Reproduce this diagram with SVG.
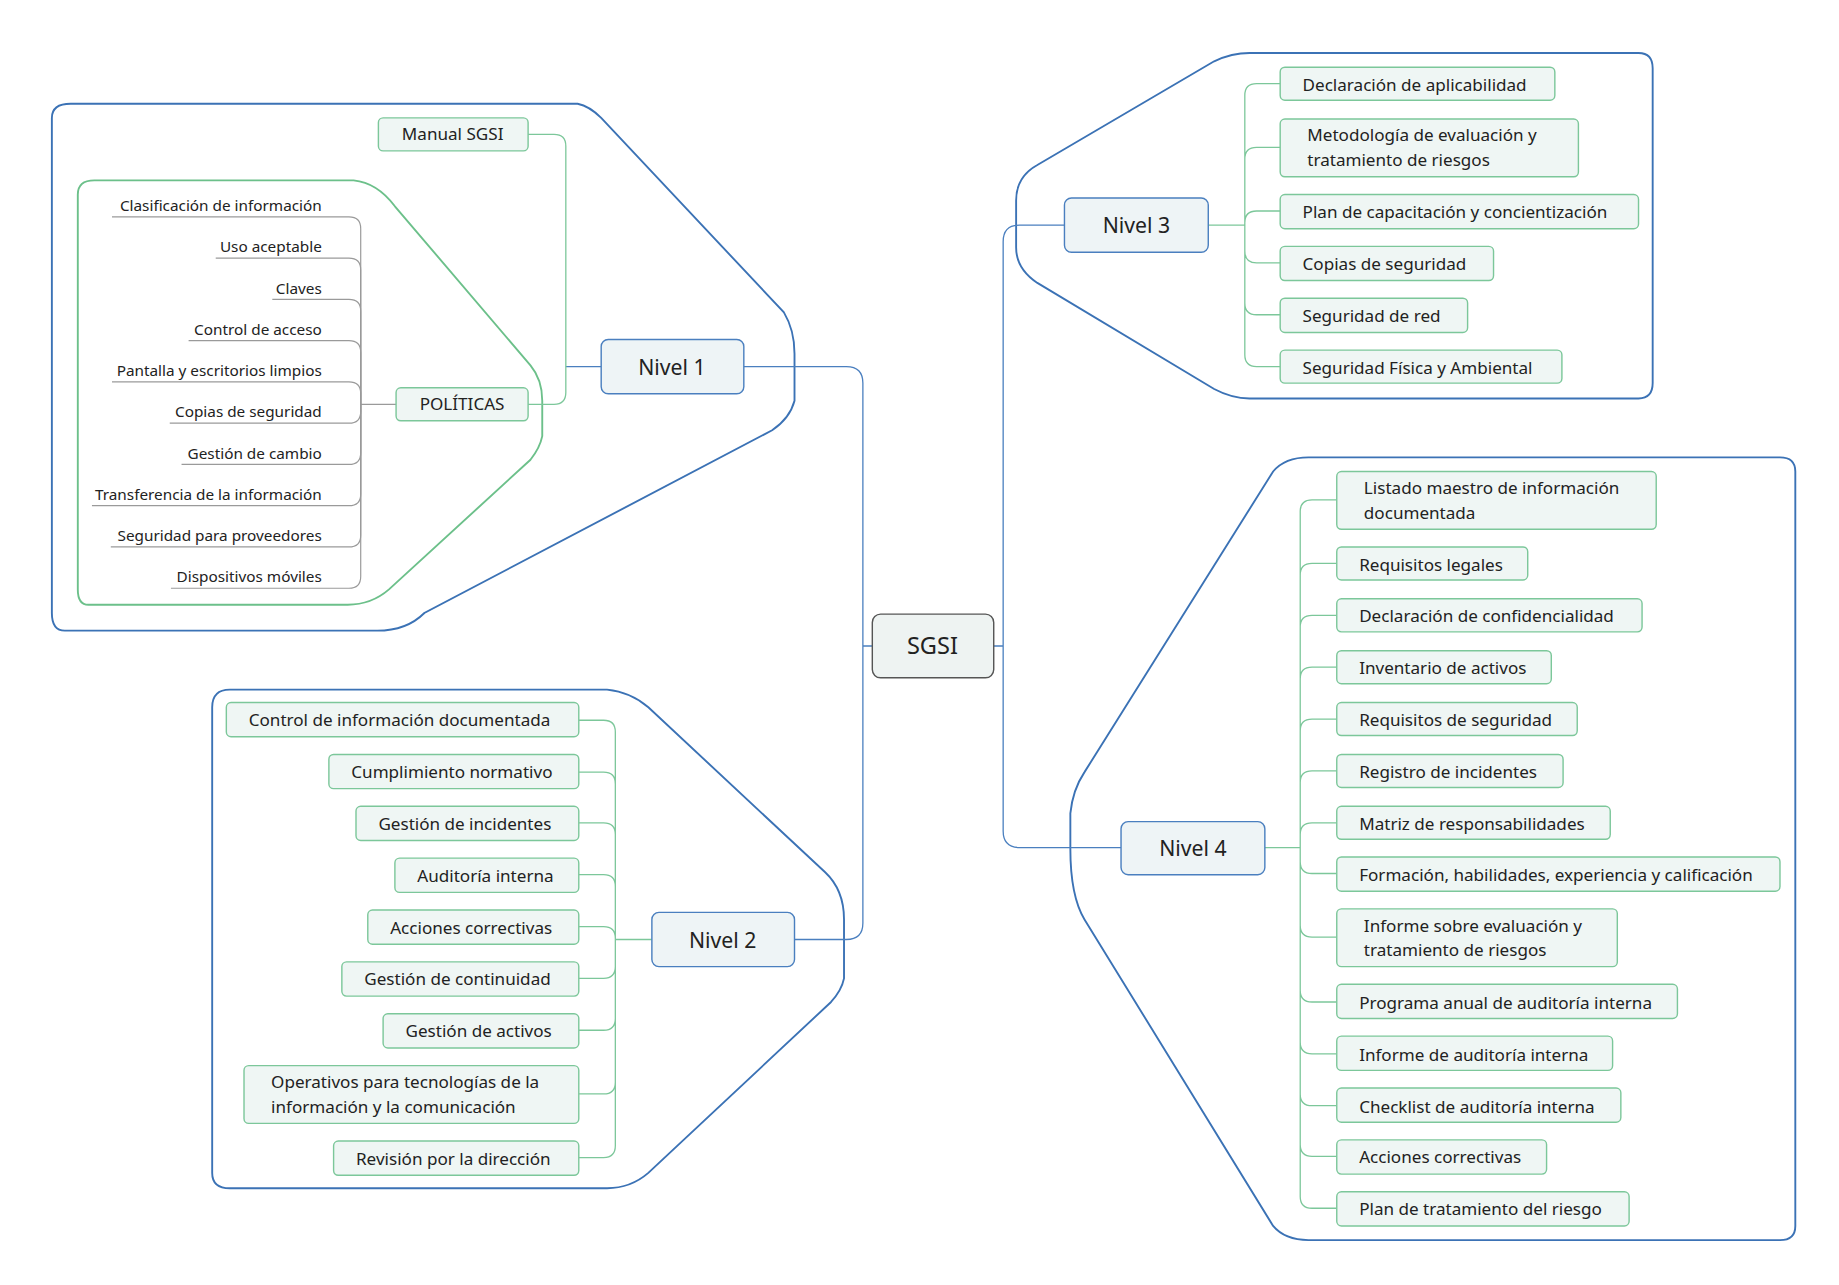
<svg xmlns="http://www.w3.org/2000/svg" width="1839" height="1285" viewBox="0 0 1839 1285">
<style>
text{font-family:"Noto Sans","Open Sans",sans-serif;fill:#222}
.g rect{fill:#eff6f4;stroke:#7cc79a;stroke-width:1.2}
.g text{font-size:14.5px}
.lv rect{fill:#eef4f6;stroke:#4a7fbf;stroke-width:1.2}
.lv text{font-size:18px;text-anchor:middle}
.p text{font-size:13px;text-anchor:end}
.bb{fill:none;stroke:#3b72b5;stroke-width:1.6}
.gb{fill:none;stroke:#6cc08a;stroke-width:1.6}
.cb{fill:none;stroke:#4a7fbf;stroke-width:1.1}
.cg{fill:none;stroke:#7cc79a;stroke-width:1.1}
.cp{fill:none;stroke:#9a9a9a;stroke-width:1}
</style>
<rect width="1839" height="1285" fill="#fff"/>
<g transform="scale(1.1788)">
<g id="boundaries">
<path class="bb" d="M60,88 L490,88 Q500,90 510,100 L665,265 Q674,280 674,300 L674,340 Q670,355 655,365 L360,520 Q345,535 320,535 L55,535 Q44,535 44,520 L44,100 Q44,88 60,88 Z"/>
<path class="gb" d="M80,153 L300,153 Q320,155 335,175 L450,310 Q460,322 460,340 L460,370 Q458,380 450,390 L330,500 Q315,513 295,513 L75,513 Q66,513 66,500 L66,165 Q66,153 80,153 Z"/>
<path class="bb" d="M195,585 L515,585 Q535,587 550,600 L700,740 Q716,755 716,780 L716,830 Q714,840 705,850 L550,995 Q535,1008 515,1008 L195,1008 Q180,1008 180,995 L180,600 Q180,585 195,585 Z"/>
<path class="bb" d="M1060,45 L1390,45 Q1402,45 1402,58 L1402,325 Q1402,338 1390,338 L1060,338 Q1045,338 1030,330 L880,240 Q862,228 862,210 L862,170 Q862,150 880,140 L1030,52 Q1045,45 1060,45 Z"/>
<path class="bb" d="M1110,388 L1510,388 Q1523,388 1523,400 L1523,1040 Q1523,1052 1510,1052 L1110,1052 Q1090,1052 1080,1040 L920,780 Q908,760 908,720 L908,690 Q910,670 920,655 L1080,400 Q1090,388 1110,388 Z"/>
</g>
<g id="connectors">
<path class="cb" d="M740,548 L732,548 M732,548 L732,325 Q732,311 718,311 L631,311 M732,548 L732,783 Q732,797 718,797 L674,797"/>
<path class="cb" d="M843,548 L851,548 M851,548 L851,205 Q851,191 865,191 L903,191 M851,548 L851,705 Q851,719 865,719 L951,719"/>
<path class="cb" d="M510,311 L480,311"/>
<path class="cg" d="M480,311 L480,124 Q480,114 470,114 L448,114 M480,311 L480,333 Q480,343 470,343 L448,343"/>
<path class="cp" d="M336,343 L306,343"/>
<g class="cp">
<path d="M95,184 L296,184 Q306,184 306,194 L306,343"/>
<path d="M183,219 L296,219 Q306,219 306,229 L306,343"/>
<path d="M231,254 L296,254 Q306,254 306,264 L306,343"/>
<path d="M160,289 L296,289 Q306,289 306,299 L306,343"/>
<path d="M95,324 L296,324 Q306,324 306,334 L306,343"/>
<path d="M144,359 L296,359 Q306,359 306,349 L306,343"/>
<path d="M154,394 L296,394 Q306,394 306,384 L306,343"/>
<path d="M78,429 L296,429 Q306,429 306,419 L306,343"/>
<path d="M94,464 L296,464 Q306,464 306,454 L306,343"/>
<path d="M145,499 L296,499 Q306,499 306,489 L306,343"/>
</g>
<path class="cg" d="M553,797 L522,797 M522,797 L522,621 Q522,611 512,611 L491,611 M522,797 L522,665 Q522,655 512,655 L491,655 M522,797 L522,708 Q522,698 512,698 L491,698 M522,797 L522,752 Q522,742 512,742 L491,742 M522,797 L522,796 Q522,786 512,786 L491,786 M522,797 L522,820 Q522,830 512,830 L491,830 M522,797 L522,864 Q522,874 512,874 L491,874 M522,797 L522,918 Q522,928 512,928 L491,928 M522,797 L522,972 Q522,982 512,982 L491,982"/>
<path class="cg" d="M1025,191 L1056,191 M1056,191 L1056,81 Q1056,71 1066,71 L1086,71 M1056,191 L1056,135 Q1056,125 1066,125 L1086,125 M1056,191 L1056,189 Q1056,179 1066,179 L1086,179 M1056,191 L1056,213 Q1056,223 1066,223 L1086,223 M1056,191 L1056,257 Q1056,267 1066,267 L1086,267 M1056,191 L1056,301 Q1056,311 1066,311 L1086,311"/>
<path class="cg" d="M1073,719 L1103,719 M1103,719 L1103,434 Q1103,424 1113,424 L1134,424 M1103,719 L1103,488 Q1103,478 1113,478 L1134,478 M1103,719 L1103,532 Q1103,522 1113,522 L1134,522 M1103,719 L1103,576 Q1103,566 1113,566 L1134,566 M1103,719 L1103,620 Q1103,610 1113,610 L1134,610 M1103,719 L1103,664 Q1103,654 1113,654 L1134,654 M1103,719 L1103,708 Q1103,698 1113,698 L1134,698 M1103,719 L1103,731 Q1103,741 1113,741 L1134,741 M1103,719 L1103,785 Q1103,795 1113,795 L1134,795 M1103,719 L1103,840 Q1103,850 1113,850 L1134,850 M1103,719 L1103,884 Q1103,894 1113,894 L1134,894 M1103,719 L1103,928 Q1103,938 1113,938 L1134,938 M1103,719 L1103,971 Q1103,981 1113,981 L1134,981 M1103,719 L1103,1015 Q1103,1025 1113,1025 L1134,1025"/>
</g>
<g id="sgsi"><rect x="740" y="521" width="103" height="54" rx="7" fill="#eef3f2" stroke="#555" stroke-width="1.2"/><text x="791" y="555" font-size="20" text-anchor="middle">SGSI</text></g>
<g id="nivel1" class="lv"><rect x="510" y="288" width="121" height="46" rx="6"/><text x="570" y="318">Nivel 1</text></g>
<g id="nivel2" class="lv"><rect x="553" y="774" width="121" height="46" rx="6"/><text x="613" y="804">Nivel 2</text></g>
<g id="nivel3" class="lv"><rect x="903" y="168" width="122" height="46" rx="6"/><text x="964" y="198">Nivel 3</text></g>
<g id="nivel4" class="lv"><rect x="951" y="697" width="122" height="45" rx="6"/><text x="1012" y="726">Nivel 4</text></g>
<g id="n1-children" class="g">
<g id="manual"><rect x="321" y="100" width="127" height="28" rx="4"/><text x="384" y="119" text-anchor="middle">Manual SGSI</text></g>
<g id="politicas"><rect x="336" y="329" width="112" height="28" rx="4"/><text x="392" y="348" text-anchor="middle">POLÍTICAS</text></g>
</g>
<g id="politicas-items" class="p">
<text x="273" y="179">Clasificación de información</text>
<text x="273" y="214">Uso aceptable</text>
<text x="273" y="249">Claves</text>
<text x="273" y="284">Control de acceso</text>
<text x="273" y="319">Pantalla y escritorios limpios</text>
<text x="273" y="354">Copias de seguridad</text>
<text x="273" y="389">Gestión de cambio</text>
<text x="273" y="424">Transferencia de la información</text>
<text x="273" y="459">Seguridad para proveedores</text>
<text x="273" y="494">Dispositivos móviles</text>
</g>
<g id="n2-children" class="g">
<g><rect x="192" y="596" width="299" height="29" rx="4"/><text x="211" y="616">Control de información documentada</text></g>
<g><rect x="279" y="640" width="212" height="29" rx="4"/><text x="298" y="660">Cumplimiento normativo</text></g>
<g><rect x="302" y="684" width="189" height="29" rx="4"/><text x="321" y="704">Gestión de incidentes</text></g>
<g><rect x="335" y="728" width="156" height="29" rx="4"/><text x="354" y="748">Auditoría interna</text></g>
<g><rect x="312" y="772" width="179" height="29" rx="4"/><text x="331" y="792">Acciones correctivas</text></g>
<g><rect x="290" y="816" width="201" height="29" rx="4"/><text x="309" y="836">Gestión de continuidad</text></g>
<g><rect x="325" y="860" width="166" height="29" rx="4"/><text x="344" y="880">Gestión de activos</text></g>
<g><rect x="207" y="904" width="284" height="49" rx="4"/><text x="230" y="923">Operativos para tecnologías de la</text><text x="230" y="944">información y la comunicación</text></g>
<g><rect x="283" y="968" width="208" height="29" rx="4"/><text x="302" y="988">Revisión por la dirección</text></g>
</g>
<g id="n3-children" class="g">
<g><rect x="1086" y="57" width="233" height="28" rx="4"/><text x="1105" y="77">Declaración de aplicabilidad</text></g>
<g><rect x="1086" y="101" width="253" height="49" rx="4"/><text x="1109" y="120">Metodología de evaluación y</text><text x="1109" y="141">tratamiento de riesgos</text></g>
<g><rect x="1086" y="165" width="304" height="29" rx="4"/><text x="1105" y="185">Plan de capacitación y concientización</text></g>
<g><rect x="1086" y="209" width="181" height="29" rx="4"/><text x="1105" y="229">Copias de seguridad</text></g>
<g><rect x="1086" y="253" width="159" height="29" rx="4"/><text x="1105" y="273">Seguridad de red</text></g>
<g><rect x="1086" y="297" width="239" height="28" rx="4"/><text x="1105" y="317">Seguridad Física y Ambiental</text></g>
</g>
<g id="n4-children" class="g">
<g><rect x="1134" y="400" width="271" height="49" rx="4"/><text x="1157" y="419">Listado maestro de información</text><text x="1157" y="440">documentada</text></g>
<g><rect x="1134" y="464" width="162" height="28" rx="4"/><text x="1153" y="484">Requisitos legales</text></g>
<g><rect x="1134" y="508" width="259" height="28" rx="4"/><text x="1153" y="528">Declaración de confidencialidad</text></g>
<g><rect x="1134" y="552" width="182" height="28" rx="4"/><text x="1153" y="572">Inventario de activos</text></g>
<g><rect x="1134" y="596" width="204" height="28" rx="4"/><text x="1153" y="616">Requisitos de seguridad</text></g>
<g><rect x="1134" y="640" width="192" height="28" rx="4"/><text x="1153" y="660">Registro de incidentes</text></g>
<g><rect x="1134" y="684" width="232" height="28" rx="4"/><text x="1153" y="704">Matriz de responsabilidades</text></g>
<g><rect x="1134" y="727" width="376" height="29" rx="4"/><text x="1153" y="747">Formación, habilidades, experiencia y calificación</text></g>
<g><rect x="1134" y="771" width="238" height="49" rx="4"/><text x="1157" y="791">Informe sobre evaluación y</text><text x="1157" y="811">tratamiento de riesgos</text></g>
<g><rect x="1134" y="835" width="289" height="29" rx="4"/><text x="1153" y="856">Programa anual de auditoría interna</text></g>
<g><rect x="1134" y="879" width="234" height="29" rx="4"/><text x="1153" y="900">Informe de auditoría interna</text></g>
<g><rect x="1134" y="923" width="241" height="29" rx="4"/><text x="1153" y="944">Checklist de auditoría interna</text></g>
<g><rect x="1134" y="967" width="178" height="29" rx="4"/><text x="1153" y="987">Acciones correctivas</text></g>
<g><rect x="1134" y="1011" width="248" height="29" rx="4"/><text x="1153" y="1031">Plan de tratamiento del riesgo</text></g>
</g>
</g>
</svg>
